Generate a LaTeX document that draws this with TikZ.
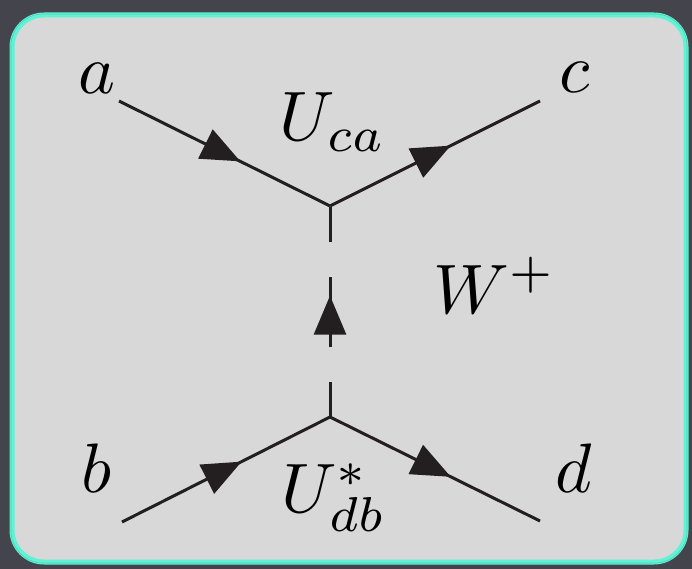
\documentclass[tikz,border=0pt]{standalone}
\usetikzlibrary{arrows.meta,decorations.markings}
\definecolor{bgdark}{HTML}{43444C}
\definecolor{panel}{HTML}{D8D8D8}
\definecolor{rim}{HTML}{60F2D4}
\definecolor{ink}{HTML}{231F20}
\begin{document}
\begin{tikzpicture}[x=1pt,y=-1pt,
  prop/.style={line width=3pt, draw=ink, line cap=butt,
    postaction={decorate, solid},
    decoration={markings, mark=at position 0.575 with {\arrow[ink]{Triangle[length=39pt,width=32pt]}}}},
  lbl/.style={inner sep=0pt, anchor=base, scale=7, text=black}]
\fill[bgdark] (0,0) rectangle (692,569);
\path[use as bounding box] (0,0) rectangle (692,569);
\draw[rim, line width=5pt, fill=panel, rounded corners=32pt] (12,15) rectangle (686,562);
\draw[rim!70!black, line width=0.6pt, opacity=0.5, rounded corners=32pt] (11,14) rectangle (687,563);

\coordinate (a0) at (119,101);
\coordinate (c0) at (540,101);
\coordinate (v1) at (330,206);
\coordinate (v2) at (330,417);
\coordinate (b0) at (122,522);
\coordinate (d0) at (540,521);

\draw[prop] (a0) -- (v1);
\draw[prop] (v1) -- (c0);
\draw[prop] (b0) -- (v2);
\draw[prop] (v2) -- (d0);
\draw[prop, dash pattern=on 35pt off 35pt on 70pt off 35pt on 35pt] (v2) -- (v1);

\node[lbl] (la) at (97,94) {$a$};
\node[lbl] (lc) at (575,93) {$c$};
\node[lbl] (luca) at (333,141) {$U_{ca}$};
\node[lbl] (lw) at (495,313) {$W^+$};
\node[lbl] (lb) at (97,492) {$b$};
\node[lbl] (ld) at (574,492) {$d$};
\node[lbl] (ludb) at (334,512) {$U^*_{db}$};
\end{tikzpicture}
\end{document}
